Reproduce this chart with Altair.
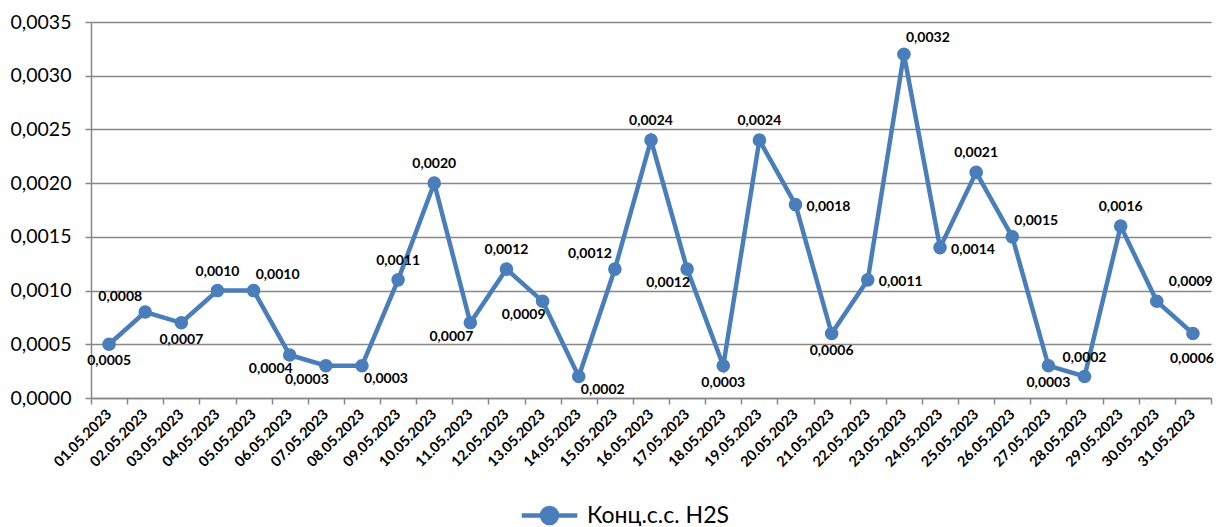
import altair as alt
import pandas as pd

dates = ["01.05.2023", "02.05.2023", "03.05.2023", "04.05.2023", "05.05.2023",
         "06.05.2023", "07.05.2023", "08.05.2023", "09.05.2023", "10.05.2023",
         "11.05.2023", "12.05.2023", "13.05.2023", "14.05.2023", "15.05.2023",
         "16.05.2023", "17.05.2023", "18.05.2023", "19.05.2023", "20.05.2023",
         "21.05.2023", "22.05.2023", "23.05.2023", "24.05.2023", "25.05.2023",
         "26.05.2023", "27.05.2023", "28.05.2023", "29.05.2023", "30.05.2023",
         "31.05.2023"]
values = [0.0005, 0.0008, 0.0007, 0.0010, 0.0010, 0.0004, 0.0003, 0.0003, 0.0011, 0.0020,
          0.0007, 0.0012, 0.0009, 0.0002, 0.0012, 0.0024, 0.0012, 0.0003, 0.0024, 0.0018,
          0.0006, 0.0011, 0.0032, 0.0014, 0.0021, 0.0015, 0.0003, 0.0002, 0.0016, 0.0009,
          0.0006]
# data label placement relative to each point
placement = ["b", "tl", "b", "t", "tr", "bl", "bl", "br", "t", "t",
             "bl", "t", "bl", "br", "tl", "t", "bl", "b", "t", "r",
             "b", "r", "tr", "r", "t", "tr", "b", "t", "t", "fr",
             "bb"]
series_name = "Конц.с.с. H2S"
y_ticks = [0, 0.0005, 0.0010, 0.0015, 0.0020, 0.0025, 0.0030, 0.0035]

offsets = {
    "t": (0, -19), "b": (0, 17), "tl": (-25, -15), "tr": (24, -16),
    "bl": (-19, 14), "br": (24, 13), "r": (33, 2), "fr": (34, -19),
    "bb": (-1, 25),
}

df = pd.DataFrame({"date": dates, "value": values, "pos": placement,
                   "series": series_name})

FONT = "Lato"
BLUE = "#4a7ebb"
GRID = "#888888"

x = alt.X("date:N", sort=None,
          scale=alt.Scale(type="band", paddingInner=0, paddingOuter=0),
          axis=alt.Axis(title=None, labelAngle=-45, labelAlign="right",
                        labelBaseline="middle", labelFontWeight="bold",
                        labelFontSize=14.5, labelFont=FONT, labelColor="#000000",
                        labelPadding=8, tickBand="extent", tickSize=6,
                        tickColor=GRID, domainColor=GRID, grid=False,
                        domainWidth=1.5, tickWidth=1.5))
y = alt.Y("value:Q", scale=alt.Scale(domain=[0, 0.0035], nice=False),
          axis=alt.Axis(title=None, values=y_ticks,
                        labelExpr="replace(format(datum.value, '.4f'), '.', ',')",
                        labelFontSize=19.5, labelFont=FONT, labelColor="#000000",
                        labelPadding=14, tickSize=6, tickColor=GRID,
                        domainColor=GRID, gridColor=GRID, gridWidth=1.5,
                        domainWidth=1.5, tickWidth=1.5))

base = alt.Chart(df)

line = base.mark_line(color=BLUE, strokeWidth=4.5).encode(x=x, y=y)

legend_path = "M-3.7,0H3.7M1,0A1,1,0,1,1,-1,0A1,1,0,1,1,1,0Z"
points = base.mark_circle(size=185, opacity=1).encode(
    x=x, y=y,
    color=alt.Color("series:N", scale=alt.Scale(range=[BLUE]),
                    legend=alt.Legend(title=None, orient="none",
                                      legendX=447, legendY=482,
                                      symbolType=legend_path, symbolSize=225,
                                      symbolFillColor=BLUE, symbolStrokeColor=BLUE,
                                      symbolStrokeWidth=4.5, symbolOpacity=1,
                                      labelOffset=26, labelFontSize=23,
                                      labelFont=FONT, labelColor="#000000",
                                      padding=0)),
)

labels = []
for key, (dx, dy) in offsets.items():
    labels.append(
        base.transform_filter(alt.datum.pos == key)
        .transform_calculate(lbl="replace(format(datum.value, '.4f'), '.', ',')")
        .mark_text(dx=dx, dy=dy, font=FONT, fontSize=14, fontWeight="bold",
                   color="#000000", align="center", baseline="middle")
        .encode(x=x, y=y, text="lbl:N")
    )

chart = alt.layer(line, points, *labels).properties(
    width=1120, height=376,
    autosize=alt.AutoSizeParams(type="none"),
    padding={"left": 83, "top": 14, "right": 5, "bottom": 128},
    background="white",
).configure_view(stroke=None)

chart.save("out.html", embed_options={"renderer": "svg", "actions": False})
